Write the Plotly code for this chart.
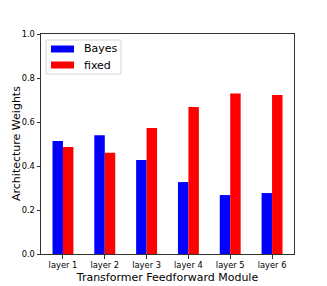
import plotly.graph_objects as go

categories = ["layer 1", "layer 2", "layer 3", "layer 4", "layer 5", "layer 6"]
bayes = [0.514, 0.540, 0.427, 0.327, 0.268, 0.277]
fixed = [0.486, 0.460, 0.573, 0.668, 0.730, 0.723]
y_ticks = [0.0, 0.2, 0.4, 0.6, 0.8, 1.0]
series_names = ["Bayes", "fixed"]
series_colors = ["#0000ff", "#ff0000"]

W, H = 327, 286
L, R, T, B = 41, 33, 34, 32
PW, PH = W - L - R, H - T - B

def px(x):
    return (x - L) / PW

def py(y):
    return 1 - (y - T) / PH

xpos = list(range(len(categories)))
fig = go.Figure()
for name, vals, col in zip(series_names, [bayes, fixed], series_colors):
    fig.add_trace(go.Bar(x=xpos, y=vals, name=name, marker_color=col, marker_line_width=0))

font = "DejaVu Sans"
shapes = [dict(type="rect", xref="paper", yref="paper", x0=px(46), x1=px(121), y0=py(74), y1=py(40),
               line=dict(color="#d6d6d6", width=1), fillcolor="rgba(255,255,255,0.8)", layer="above")]
annotations = []
for i, (name, col) in enumerate(zip(series_names, series_colors)):
    yc = 49 + 16 * i
    shapes.append(dict(type="rect", xref="paper", yref="paper", x0=px(51), x1=px(74),
                       y0=py(yc + 3.5), y1=py(yc - 3.5), line=dict(width=0), fillcolor=col, layer="above"))
    annotations.append(dict(xref="paper", yref="paper", x=px(82), y=py(yc), text=name, showarrow=False,
                            xanchor="left", yanchor="middle", font=dict(size=11, family=font, color="#000")))
annotations.append(dict(xref="paper", yref="paper", x=px(16), y=0.5, text="Architecture Weights",
                        textangle=-90, showarrow=False, xanchor="center", yanchor="middle",
                        font=dict(size=11, family=font, color="#000")))

fig.update_layout(
    width=W, height=H,
    margin=dict(l=L, r=R, t=T, b=B),
    paper_bgcolor="white", plot_bgcolor="white",
    barmode="group", bargap=0.5, bargroupgap=0,
    font=dict(family=font, color="#000000"),
    showlegend=False,
    shapes=shapes, annotations=annotations,
)
fig.update_xaxes(
    automargin=False,
    range=[-0.525, 5.525], tickmode="array", tickvals=xpos, ticktext=categories,
    tickfont=dict(size=8.3, family=font), ticks="outside", ticklen=3.5, tickcolor="#333",
    showline=True, linecolor="#333", linewidth=1, mirror=True, showgrid=False, zeroline=False,
    title=dict(text="Transformer Feedforward Module", font=dict(size=11, family=font), standoff=3),
)
fig.update_yaxes(
    automargin=False,
    range=[0, 1.0], tickmode="array", tickvals=y_ticks, ticktext=[f"{v:.1f}" for v in y_ticks],
    tickfont=dict(size=8.3, family=font), ticks="outside", ticklen=3.5, tickcolor="#333",
    showline=True, linecolor="#333", linewidth=1, mirror=True, showgrid=False, zeroline=False,
)
fig.write_html("out.html", config={"displayModeBar": False},
               post_script="document.body.style.margin='0';")
